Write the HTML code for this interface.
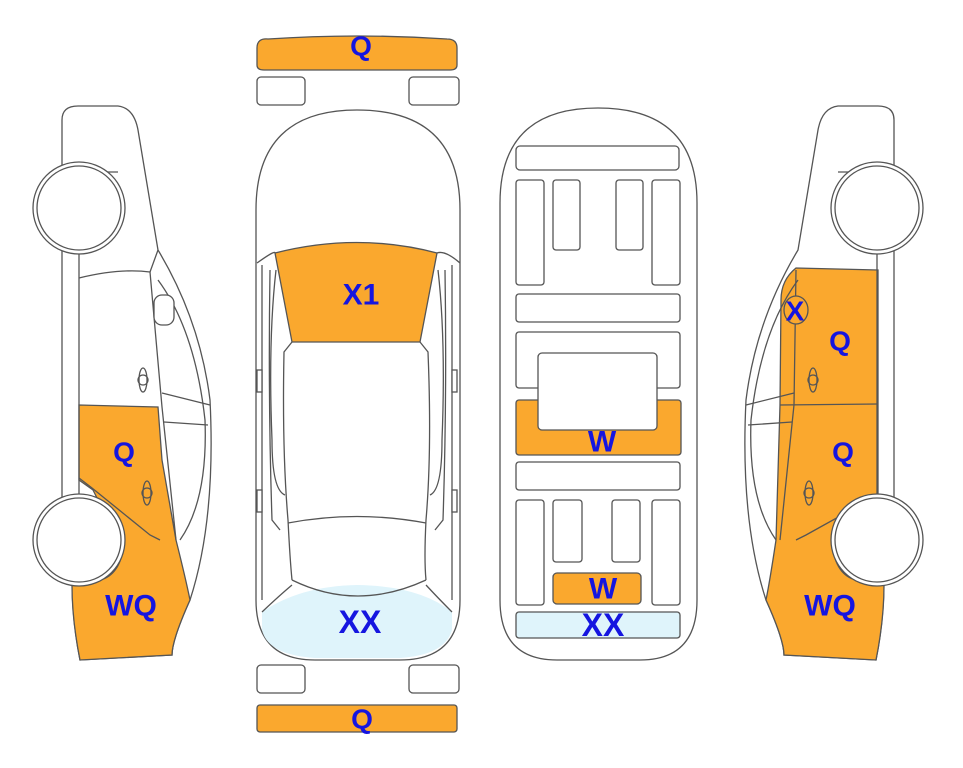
<!DOCTYPE html>
<html><head><style>
html,body{margin:0;padding:0;background:#fff;width:963px;height:768px;overflow:hidden}
text{font-family:"Liberation Sans",Arial,sans-serif;font-weight:bold;fill:#1515e0;text-anchor:middle;dominant-baseline:central}
</style></head><body>
<svg width="963" height="768" viewBox="0 0 963 768" xmlns="http://www.w3.org/2000/svg">
<g stroke="#555" stroke-width="1.3" fill="none">
<!-- top bumper -->
<path d="M257,48 Q257,38 268,39 Q357,33 447,39 Q457,39 457,48 L457,65 Q457,70 450,70 L264,70 Q257,70 257,65 Z" fill="#faa82e"/>
<rect x="257" y="77" width="48" height="28" rx="4" fill="#fff"/>
<rect x="409" y="77" width="50" height="28" rx="4" fill="#fff"/>
<!-- middle car -->
<path d="M256,210 Q256,110 357,110 Q460,110 460,210 L460,600 Q460,660 400,660 L315,660 Q256,660 256,600 Z" fill="#fff"/>
<path d="M262,612 Q300,586 357,585 Q420,586 452,612 L452,630 Q445,655 400,658 L315,658 Q268,655 262,630 Z" fill="#dff4fb" stroke="none"/>
<path d="M262,612 Q280,595 292,585 M452,612 Q438,598 426,585"/>
<path d="M292,580 Q357,612 426,580"/>
<path d="M275,253 Q357,232 437,253 L420,342 L292,342 Z" fill="#faa82e"/>
<path d="M257,263 Q275,250 275,253 M460,263 Q445,250 437,253"/>
<path d="M262,265 L262,600 M452,265 L452,600"/>
<path d="M270,270 Q268,400 272,520 L280,530 M445,270 Q447,400 443,520 L435,530"/>
<path d="M292,342 L284,352 Q282,450 288,520 Q290,560 292,580 M420,342 L428,352 Q432,450 426,520 Q424,560 426,580"/>
<path d="M288,523 Q357,510 426,523"/>
<path d="M276,270 Q268,340 272,440 Q272,490 285,495 M438,270 Q446,340 442,440 Q442,490 430,495"/>
<rect x="257" y="370" width="5" height="22" fill="#fff"/>
<rect x="452" y="370" width="5" height="22" fill="#fff"/>
<rect x="257" y="490" width="5" height="22" fill="#fff"/>
<rect x="452" y="490" width="5" height="22" fill="#fff"/>
<rect x="257" y="665" width="48" height="28" rx="4" fill="#fff"/>
<rect x="409" y="665" width="50" height="28" rx="4" fill="#fff"/>
<rect x="257" y="705" width="200" height="27" rx="3" fill="#faa82e"/>

<!-- underside car -->
<path d="M500,203 Q500,108 598,108 Q697,108 697,203 L697,600 Q697,660 640,660 L557,660 Q500,660 500,600 Z" fill="#fff"/>
<rect x="516" y="146" width="163" height="24" rx="4"/>
<rect x="516" y="180" width="28" height="105" rx="3"/>
<rect x="553" y="180" width="27" height="70" rx="3"/>
<rect x="616" y="180" width="27" height="70" rx="3"/>
<rect x="652" y="180" width="28" height="105" rx="3"/>
<rect x="516" y="294" width="164" height="28" rx="3"/>
<rect x="516" y="332" width="164" height="56" rx="3"/>
<rect x="516" y="400" width="165" height="55" rx="3" fill="#faa82e"/>
<rect x="538" y="353" width="119" height="77" rx="4" fill="#fff"/>
<rect x="516" y="462" width="164" height="28" rx="3"/>
<rect x="516" y="500" width="28" height="105" rx="3"/>
<rect x="553" y="500" width="29" height="62" rx="3"/>
<rect x="612" y="500" width="28" height="62" rx="3"/>
<rect x="652" y="500" width="28" height="105" rx="3"/>
<rect x="553" y="573" width="88" height="31" rx="4" fill="#faa82e"/>
<rect x="516" y="612" width="164" height="26" rx="3" fill="#dff4fb"/>
</g>

<!-- left side car -->
<g id="sidecar" stroke="#555" stroke-width="1.3" fill="none">
<path d="M62,120 Q62,106 78,106 L118,106 Q134,108 138,130 L158,250 Q200,320 210,400 Q216,520 190,600 Q172,640 172,655 L80,660 Q72,620 72,580 L62,580 L62,250 Z" fill="#fff"/>
<path d="M79,405 L158,407 L162,460 L176,540 Q186,580 190,600 Q172,640 172,655 L80,660 Q72,620 72,585 L100,580 Q120,575 124,545 L108,520 L93,490 L79,480 Z" fill="#faa82e"/>
<path d="M79,478 L92,488 L150,535 L160,540"/>
<path d="M62,250 L79,250 L79,500 M62,500 L79,500"/>
<path d="M79,278 Q120,268 150,272 L162,407 L176,540"/>
<path d="M150,272 L158,250 M158,280 Q195,330 205,420 Q208,500 180,540"/>
<path d="M162,393 L210,405 M164,422 L208,425"/>
<rect x="154" y="295" width="20" height="30" rx="8" fill="#fff"/>
<path d="M62,172 L118,172"/>
<ellipse cx="143" cy="380" rx="4" ry="12"/><circle cx="143" cy="380" r="5"/>
<ellipse cx="147" cy="493" rx="4" ry="12"/><circle cx="147" cy="493" r="5"/>
<circle cx="79" cy="208" r="46" fill="#fff"/>
<circle cx="79" cy="208" r="42" fill="#fff"/>
<circle cx="79" cy="540" r="46" fill="#fff"/>
<circle cx="79" cy="540" r="42" fill="#fff"/>
</g>

<!-- right side car (mirrored) -->
<g transform="translate(956,0) scale(-1,1)" stroke="#555" stroke-width="1.3" fill="none">
<path d="M62,120 Q62,106 78,106 L118,106 Q134,108 138,130 L158,250 Q200,320 210,400 Q216,520 190,600 Q172,640 172,655 L80,660 Q72,620 72,580 L62,580 L62,250 Z" fill="#fff"/>
<path d="M78,270 L160,268 Q175,280 175,300 L176,405 L180,540 Q186,580 190,600 Q172,640 172,655 L80,660 Q72,620 72,585 L100,580 Q120,575 124,545 L108,520 L78,495 Z" fill="#faa82e"/>
<path d="M176,405 L78,404 M78,495 L150,535 L160,540 M160,270 L162,405 L176,540"/>
<path d="M62,250 L79,250 L79,500 M62,500 L79,500"/>
<path d="M158,280 Q195,330 205,420 Q208,500 180,540"/>
<path d="M162,393 L210,405 M164,422 L208,425"/>
<path d="M62,172 L118,172"/>
<ellipse cx="160" cy="310" rx="12" ry="14" fill="#faa82e"/>
<ellipse cx="143" cy="380" rx="4" ry="12"/><circle cx="143" cy="380" r="5"/>
<ellipse cx="147" cy="493" rx="4" ry="12"/><circle cx="147" cy="493" r="5"/>
<circle cx="79" cy="208" r="46" fill="#fff"/>
<circle cx="79" cy="208" r="42" fill="#fff"/>
<circle cx="79" cy="540" r="46" fill="#fff"/>
<circle cx="79" cy="540" r="42" fill="#fff"/>
</g>

<text x="361" y="46" font-size="28">Q</text>
<text x="361" y="295" font-size="30">X1</text>
<text x="360" y="622" font-size="32">XX</text>
<text x="362" y="719" font-size="28">Q</text>
<text x="602" y="442" font-size="30">W</text>
<text x="603" y="589" font-size="30">W</text>
<text x="603" y="625" font-size="32">XX</text>
<text x="124" y="452" font-size="28">Q</text>
<text x="131" y="606" font-size="30">WQ</text>
<text x="795" y="311" font-size="28">X</text>
<text x="840" y="341" font-size="28">Q</text>
<text x="843" y="452" font-size="28">Q</text>
<text x="830" y="606" font-size="30">WQ</text>
</svg>
</body></html>
